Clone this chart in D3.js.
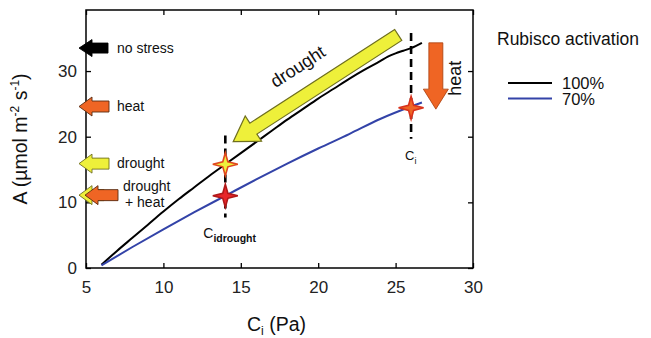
<!DOCTYPE html>
<html>
<head>
<meta charset="utf-8">
<script src="https://cdn.jsdelivr.net/npm/d3@7"></script>
<style>
  body { margin: 0; background: #fff; }
  svg { font-family: Arial, "Liberation Sans", sans-serif; }
</style>
</head>
<body>
<div id="chart"></div>
<script>
// ---- data ----
const ci100 = [6.0, 7, 8, 9, 10, 11, 12, 13, 14, 15, 16, 17, 18, 19, 20, 21, 22, 23, 24, 24.5, 25, 25.5, 26, 26.7]
const a100 = [0.5, 2.6, 4.6, 6.6, 8.6, 10.5, 12.3, 14.1, 15.8, 17.5, 19.2, 20.9, 22.6, 24.2, 25.8, 27.3, 28.8, 30.2, 31.5, 32.2, 32.7, 33.1, 33.5, 34.3]
const ci70 = [6.0, 8, 10, 12, 14, 16, 18, 20, 22, 24, 26, 26.7]
const a70 = [0.4, 3.2, 5.9, 8.5, 11.0, 13.5, 15.9, 18.2, 20.4, 22.7, 24.6, 25.2]
const seriesNames = ['100%', '70%']
const legendTitle = 'Rubisco activation'

const xTicks = [5, 10, 15, 20, 25, 30]
const yTicks = [0, 10, 20, 30]

// operating points (Ci drought / Ci)
const ciMarks = [14, 26]
const starCi = [14, 14, 26]
const starA = [15.8, 11.0, 24.4]

// stress indicator arrows on the left
const stressLabels = [['no stress'], ['heat'], ['drought'], ['drought', '+ heat']]
const stressA = [33.5, 24.6, 15.9, 11.1]

// ---- layout ----
const width = 651
const height = 338
const margin = { top: 10, right: 178, bottom: 70, left: 86 }

const svg = d3.select('#chart').append('svg').attr('width', width).attr('height', height)

const x = d3.scaleLinear().domain([5, 30]).range([margin.left, width - margin.right])
const y = d3.scaleLinear().domain([0, 39.3]).range([height - margin.bottom, margin.top])

const ORANGE = '#ef6524'
const YELLOW = '#eef03a'
const BLUE = '#3343a8'

function arrowPath(x0, y0, x1, y1, bw, hw, hl) {
	const dx = x1 - x0, dy = y1 - y0, L = Math.hypot(dx, dy)
	const ux = dx / L, uy = dy / L, nx = -uy, ny = ux
	const bx = x1 - ux * hl, by = y1 - uy * hl
	const pts = [
		[x0 + nx * bw / 2, y0 + ny * bw / 2],
		[bx + nx * bw / 2, by + ny * bw / 2],
		[bx + nx * hw / 2, by + ny * hw / 2],
		[x1, y1],
		[bx - nx * hw / 2, by - ny * hw / 2],
		[bx - nx * bw / 2, by - ny * bw / 2],
		[x0 - nx * bw / 2, y0 - ny * bw / 2],
	]
	return d3.line()(pts) + 'Z'
}

// ---- frame + ticks (inward, all four sides) ----
const x0 = x.range()[0], x1 = x.range()[1], y0 = y.range()[0], y1 = y.range()[1]

svg.append('g')
	.attr('transform', `translate(0,${y0})`)
	.call(d3.axisBottom(x).tickValues(xTicks).tickSize(-5).tickPadding(13).tickFormat(d3.format('d')))
	.call(g => g.select('.domain').remove())
	.call(g => g.selectAll('text').attr('font-size', 17).attr('fill', '#222'))
	.call(g => g.selectAll('line').attr('stroke', '#000').attr('stroke-width', 1.3))

svg.append('g')
	.attr('transform', `translate(0,${y1})`)
	.call(d3.axisTop(x).tickValues(xTicks).tickSize(-5).tickFormat(''))
	.call(g => g.select('.domain').remove())
	.call(g => g.selectAll('line').attr('stroke', '#000').attr('stroke-width', 1.3))

svg.append('g')
	.attr('transform', `translate(${x0},0)`)
	.call(d3.axisLeft(y).tickValues(yTicks).tickSize(-5).tickPadding(9).tickFormat(d3.format('d')))
	.call(g => g.select('.domain').remove())
	.call(g => g.selectAll('text').attr('font-size', 17).attr('fill', '#222'))
	.call(g => g.selectAll('line').attr('stroke', '#000').attr('stroke-width', 1.3))

svg.append('g')
	.attr('transform', `translate(${x1},0)`)
	.call(d3.axisRight(y).tickValues(yTicks).tickSize(-5).tickFormat(''))
	.call(g => g.select('.domain').remove())
	.call(g => g.selectAll('line').attr('stroke', '#000').attr('stroke-width', 1.3))

svg.append('rect')
	.attr('x', x0).attr('y', y1)
	.attr('width', x1 - x0).attr('height', y0 - y1)
	.attr('fill', 'none').attr('stroke', '#000').attr('stroke-width', 1.5)

// axis titles
const xt = svg.append('text')
	.attr('x', (x0 + x1) / 2 - 3).attr('y', 331)
	.attr('text-anchor', 'middle').attr('font-size', 19.5).attr('fill', '#111')
xt.append('tspan').text('C')
xt.append('tspan').text('i').attr('font-size', 12).attr('dy', 4)
xt.append('tspan').text(' (Pa)').attr('dy', -4)

const yt = svg.append('text')
	.attr('transform', `translate(27,${(y0 + y1) / 2}) rotate(-90)`)
	.attr('text-anchor', 'middle').attr('font-size', 19.5).attr('fill', '#111')
yt.append('tspan').text('A (µmol m')
yt.append('tspan').text('-2').attr('font-size', 12).attr('dy', -8)
yt.append('tspan').text(' s').attr('dy', 8)
yt.append('tspan').text('-1').attr('font-size', 12).attr('dy', -8)
yt.append('tspan').text(')').attr('dy', 8)

// ---- dashed Ci markers ----
const dashTop = [20.2, 35.8]
const dashBottom = [7.7, 19.7]
svg.append('g').selectAll('line')
	.data(ciMarks)
	.join('line')
	.attr('x1', d => x(d)).attr('x2', d => x(d))
	.attr('y1', (d, i) => y(dashTop[i])).attr('y2', (d, i) => y(dashBottom[i]))
	.attr('stroke', '#000').attr('stroke-width', 2.6).attr('stroke-dasharray', '8,5')

// ---- curves ----
const line = d3.line().x(d => x(d[0])).y(d => y(d[1])).curve(d3.curveMonotoneX)
svg.append('path')
	.datum(d3.zip(ci100, a100))
	.attr('d', line).attr('fill', 'none').attr('stroke', '#000').attr('stroke-width', 2)
svg.append('path')
	.datum(d3.zip(ci70, a70))
	.attr('d', line).attr('fill', 'none').attr('stroke', BLUE).attr('stroke-width', 2)

// ---- stars ----
const starShape = d3.lineRadial()
	.angle((d, i) => i * Math.PI / 4)
	.radius((d, i) => (i % 2 ? 3.6 : (i % 4 === 0 ? 11.5 : 12.5)))
	.curve(d3.curveLinearClosed)
const starFill = [YELLOW, '#e8262a', ORANGE]
const starStroke = ['#e0481e', '#b01818', '#d8321c']
svg.append('g').selectAll('path')
	.data(starCi)
	.join('path')
	.attr('d', starShape(d3.range(8)))
	.attr('transform', (d, i) => `translate(${x(d)},${y(starA[i])})`)
	.attr('fill', (d, i) => starFill[i])
	.attr('stroke', (d, i) => starStroke[i])
	.attr('stroke-width', 1.6)

// Ci labels
const cd = svg.append('text').attr('x', x(14) - 22).attr('y', 238).attr('font-size', 14).attr('fill', '#111')
cd.append('tspan').text('C')
cd.append('tspan').text('idrought').attr('font-size', 10.5).attr('font-weight', 'bold').attr('dy', 4)
const cl = svg.append('text').attr('x', x(26) - 6).attr('y', 160).attr('font-size', 13).attr('fill', '#111')
cl.append('tspan').text('C')
cl.append('tspan').text('i').attr('font-size', 9).attr('dy', 4)

// ---- big annotation arrows ----
svg.append('path')
	.attr('d', arrowPath(x(25.17), y(35.5), x(14.51), y(19.25), 13, 30, 24))
	.attr('fill', YELLOW).attr('stroke', '#6f6f1e').attr('stroke-width', 1.2)
svg.append('text')
	.attr('transform', `translate(${x(18.9)},${y(29.9)}) rotate(-33)`)
	.attr('text-anchor', 'middle').attr('font-size', 18).attr('fill', '#111')
	.text('drought')

svg.append('path')
	.attr('d', arrowPath(x(27.6), y(34.3), x(27.6), y(24.2), 14, 25, 20))
	.attr('fill', ORANGE).attr('stroke', '#a8400f').attr('stroke-width', 0.8)
svg.append('text')
	.attr('transform', `translate(${x(29.25)},${y(28.9)}) rotate(-90)`)
	.attr('text-anchor', 'middle').attr('font-size', 18).attr('fill', '#111')
	.text('heat')

// ---- stress indicator arrows ----
const tipX = x0 - 7
const sArrows = [
	{ i: 0, fill: '#000', stroke: '#000', tail: x0 + 22, tip: tipX, bw: 10, hw: 17 },
	{ i: 1, fill: ORANGE, stroke: '#5a2a10', tail: x0 + 23, tip: tipX, bw: 11, hw: 19 },
	{ i: 2, fill: YELLOW, stroke: '#6f6f1e', tail: x0 + 23, tip: tipX, bw: 11, hw: 19 },
	{ i: 3, fill: YELLOW, stroke: '#6f6f1e', tail: x0 + 18, tip: tipX, bw: 11, hw: 19 },
	{ i: 3, fill: ORANGE, stroke: '#5a2a10', tail: x0 + 32, tip: x0 - 1, bw: 11, hw: 19 },
]
svg.append('g').selectAll('path')
	.data(sArrows)
	.join('path')
	.attr('d', d => arrowPath(d.tail, y(stressA[d.i]), d.tip, y(stressA[d.i]), d.bw, d.hw, 13))
	.attr('fill', d => d.fill).attr('stroke', d => d.stroke).attr('stroke-width', 0.9)

const labelX = [x0 + 31, x0 + 31, x0 + 31, x0 + 37]
svg.append('g').selectAll('text')
	.data(stressLabels)
	.join('text')
	.attr('font-size', 14).attr('fill', '#111')
	.attr('x', (d, i) => labelX[i])
	.attr('y', (d, i) => y(stressA[i]) + (d.length > 1 ? -4.5 : 4.8))
	.each(function (d) {
		d3.select(this).selectAll('tspan')
			.data(d)
			.join('tspan')
			.attr('x', (t, j) => +d3.select(this).attr('x') + j * 2)
			.attr('dy', (t, j) => (j ? 16 : 0))
			.text(t => t)
	})

// ---- legend ----
const lg = svg.append('g')
lg.append('text').attr('x', 497).attr('y', 45).attr('font-size', 17.5).attr('fill', '#111').text(legendTitle)
const legendColors = ['#000', BLUE]
const LEG_STEP = 15.5
lg.selectAll('line')
	.data(seriesNames)
	.join('line')
	.attr('x1', 508).attr('x2', 552)
	.attr('y1', (d, i) => 83 + i * LEG_STEP).attr('y2', (d, i) => 83 + i * LEG_STEP)
	.attr('stroke', (d, i) => legendColors[i]).attr('stroke-width', 2)
lg.selectAll('text.item')
	.data(seriesNames)
	.join('text')
	.attr('class', 'item')
	.attr('x', 562).attr('y', (d, i) => 89 + i * LEG_STEP)
	.attr('font-size', 16.5).attr('fill', '#111')
	.text(d => d)
</script>
</body>
</html>
